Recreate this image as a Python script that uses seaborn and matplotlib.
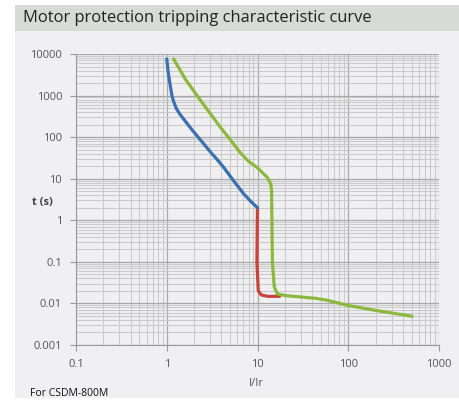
import matplotlib
matplotlib.use("Agg")
import matplotlib.pyplot as plt
from matplotlib.patches import Rectangle
from matplotlib.ticker import LogLocator, FixedLocator, FixedFormatter, NullFormatter
import seaborn as sns
import pandas as pd

# 곡선 데이터
blue_x = [1.0, 1.04, 1.09, 1.14, 1.2, 1.28, 1.38, 1.5, 1.9, 2.36, 3.0, 3.64, 4.3, 5.0, 5.8, 7.0, 8.5, 10.0]
blue_t = [7600, 3500, 1800, 1000, 680, 480, 370, 290, 150, 85, 45, 28, 18, 11.5, 7.5, 4.4, 2.8, 2.0]

red_x = [10.0, 9.9, 9.85, 9.9, 10.2, 11.0, 13.0, 17.5]
red_t = [2.0, 0.5, 0.1, 0.03, 0.02, 0.016, 0.0148, 0.0148]

green_x = [1.19, 1.6, 2.36, 3.9, 5.05, 6.5, 8.0, 10.0, 12.9, 14.0, 14.3, 14.4, 14.6, 15.3, 16.5,
           20.0, 30.0, 44.5, 60.0, 100, 200, 350, 505]
green_t = [7600, 2500, 760, 173, 85, 41.5, 26, 18.3, 10.6, 7.5, 5.0, 1.0, 0.1, 0.025, 0.017,
           0.0155, 0.0143, 0.0132, 0.0118, 0.0089, 0.0068, 0.0056, 0.0049]

x_ticks = [0.1, 1, 10, 100, 1000]
x_labels = ["0.1", "1", "10", "100", "1000"]
y_ticks = [0.001, 0.01, 0.1, 1, 10, 100, 1000, 10000]
y_labels = ["0.001", "0.01", "0.1", "1", "10", "100", "1000", "10000"]

sns.set_style("white")
plt.rcParams["font.family"] = ["Open Sans", "DejaVu Sans"]

fig = plt.figure(figsize=(4.59, 4.01), dpi=100)
W, H = 459, 401

# 배경 (제목 바, 패널)
fig.patches.append(Rectangle((15 / W, 1 - 31 / H), 444 / W, 26 / H, transform=fig.transFigure,
                             facecolor="#d8dad8", edgecolor="none", zorder=-10))
fig.patches.append(Rectangle((15 / W, 1 - 398 / H), 444 / W, 367 / H, transform=fig.transFigure,
                             facecolor="#f0f0f2", edgecolor="none", zorder=-10))
fig.text(23 / W, 1 - 18 / H, "Motor protection tripping characteristic curve", fontsize=11.9,
         color="#222222", va="center", ha="left")

ax = fig.add_axes([76 / W, 1 - 345 / H, 363 / W, 291 / H])
ax.set_facecolor("#f0f0f2")

colors = {"blue": "#3c6fb0", "red": "#c8453f", "green": "#8db83e"}
for name, xs, ts in [("blue", blue_x, blue_t), ("red", red_x, red_t), ("green", green_x, green_t)]:
    df = pd.DataFrame({"x": xs, "t": ts})
    sns.lineplot(data=df, x="x", y="t", sort=False, color=colors[name], linewidth=2.3, ax=ax,
                 zorder=3 if name != "red" else 2)

ax.set_xscale("log")
ax.set_yscale("log")
ax.set_xlim(0.1, 1000)
ax.set_ylim(0.001, 10000)

ax.xaxis.set_major_locator(FixedLocator(x_ticks))
ax.xaxis.set_major_formatter(FixedFormatter(x_labels))
ax.yaxis.set_major_locator(FixedLocator(y_ticks))
ax.yaxis.set_major_formatter(FixedFormatter(y_labels))
ax.xaxis.set_minor_locator(LogLocator(base=10, subs=range(2, 10), numticks=20))
ax.yaxis.set_minor_locator(LogLocator(base=10, subs=range(2, 10), numticks=20))
ax.xaxis.set_minor_formatter(NullFormatter())
ax.yaxis.set_minor_formatter(NullFormatter())

ax.grid(which="major", color="#a8a8a8", linewidth=0.9)
ax.grid(which="minor", color="#cacaca", linewidth=0.75)
ax.set_axisbelow(True)

ax.tick_params(which="major", direction="out", length=4, width=0.8, color="#999999",
               labelsize=8, labelcolor="#555555", left=True, bottom=True, pad=6)
ax.tick_params(which="minor", length=0)
for s in ["top", "right"]:
    ax.spines[s].set_visible(False)
for s in ["left", "bottom"]:
    ax.spines[s].set_color("#999999")
    ax.spines[s].set_linewidth(0.8)

ax.set_xlabel("")
ax.set_ylabel("")
fig.text(42 / W, 1 - 202 / H, "t (s)", fontsize=8, fontweight="bold", color="#444444",
         ha="center", va="center")
fig.text(256 / W, 1 - 383 / H, "I/Ir", fontsize=8, color="#555555", ha="center", va="center")
fig.text(30 / W, 1 - 393 / H, "For CSDM-800M", fontsize=7.5, color="#111111", ha="left",
         va="center")

fig.savefig("out.png", dpi=100, facecolor="white")
